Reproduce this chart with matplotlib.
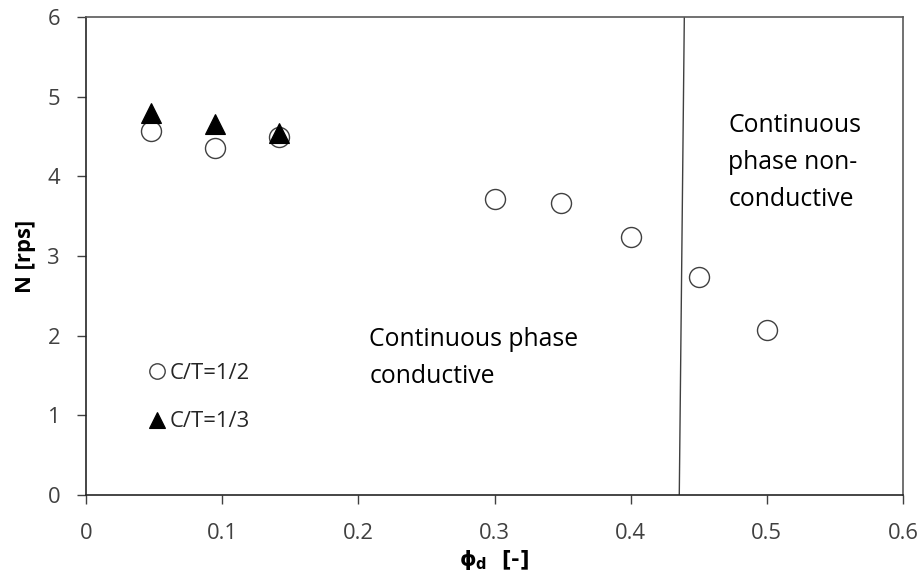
import matplotlib
matplotlib.use("Agg")
import matplotlib.pyplot as plt

# Data
phi_half = [0.048, 0.095, 0.142, 0.300, 0.349, 0.400, 0.450, 0.500]
N_half = [4.57, 4.35, 4.50, 3.72, 3.66, 3.24, 2.74, 2.07]
phi_third = [0.048, 0.095, 0.142]
N_third = [4.80, 4.66, 4.55]
boundary_x = [0.4357, 0.4394]
boundary_y = [0.0, 6.0]
x_ticks = [0, 0.1, 0.2, 0.3, 0.4, 0.5, 0.6]
x_tick_labels = ['0', '0.1', '0.2', '0.3', '0.4', '0.5', '0.6']
y_ticks = [0, 1, 2, 3, 4, 5, 6]

plt.rcParams['font.family'] = ['Open Sans', 'DejaVu Sans']
plt.rcParams['mathtext.fontset'] = 'custom'
plt.rcParams['mathtext.rm'] = 'DejaVu Sans'
plt.rcParams['mathtext.bf'] = 'DejaVu Sans:bold'

fig = plt.figure(figsize=(9.23, 5.82), dpi=100)
ax = fig.add_axes([86/923, 1-495/582, (903-86)/923, (495-17)/582])

ax.plot(boundary_x, boundary_y, color='#404040', lw=1.0, zorder=1)
ax.plot(phi_half, N_half, linestyle='none', marker='o', markersize=14.4,
        markerfacecolor='white', markeredgecolor='#404040', markeredgewidth=1.0,
        label='C/T=1/2', zorder=2)
ax.plot(phi_third, N_third, linestyle='none', marker='^', markersize=15,
        markerfacecolor='black', markeredgecolor='black', markeredgewidth=0.8,
        label='C/T=1/3', zorder=3)

ax.set_xlim(0, 0.6)
ax.set_ylim(0, 6)
ax.set_xticks(x_ticks)
ax.set_xticklabels(x_tick_labels)
ax.set_yticks(y_ticks)
ax.tick_params(axis='both', direction='out', length=6.7, width=1.0, color='#404040',
               labelsize=15.8, labelcolor='#404040')
ax.tick_params(axis='y', pad=12)
ax.tick_params(axis='x', pad=13.5)

for s in ['left', 'bottom']:
    ax.spines[s].set_color('#262626')
    ax.spines[s].set_linewidth(1.2)
for s in ['top', 'right']:
    ax.spines[s].set_color('#595959')
    ax.spines[s].set_linewidth(1.2)

ax.set_ylabel('N [rps]', fontsize=15.8, fontweight='bold', labelpad=8, color='black')
ax.set_xlabel('ϕ$_{\\mathbf{d}}$  [-]', fontsize=15, fontweight='bold', labelpad=3,
              color='black', family=['DejaVu Sans'])

leg = ax.legend(loc='center left', bbox_to_anchor=(0.0771, 0.204), frameon=False,
                fontsize=15.8, markerscale=0.77, handlelength=0.7, handletextpad=0.25,
                labelspacing=1.27, borderaxespad=0, borderpad=0, labelcolor='#262626')

ax.text(0.208, 2.11, 'Continuous phase\nconductive', fontsize=17.8, va='top', ha='left',
        multialignment='left', linespacing=1.63, color='black')
ax.text(0.4718, 4.79, 'Continuous\nphase non-\nconductive', fontsize=17.8, va='top',
        ha='left', multialignment='left', linespacing=1.63, color='black')

fig.savefig('out.png', dpi=100)
